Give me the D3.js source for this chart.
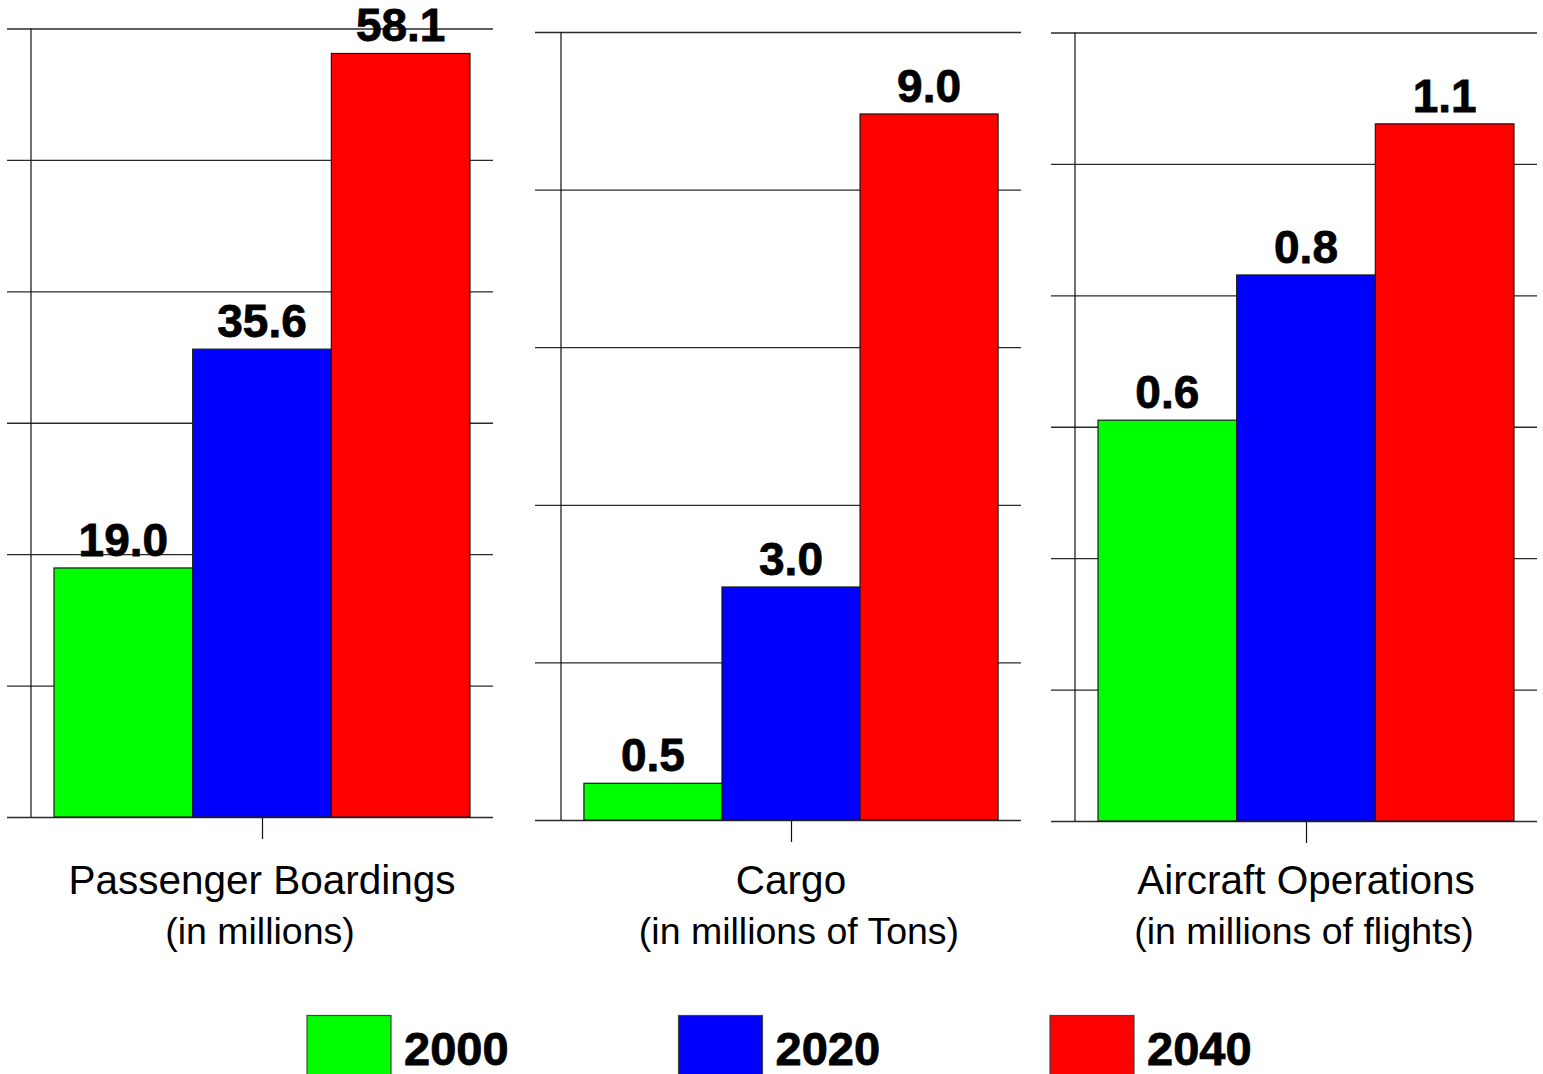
<!DOCTYPE html>
<html>
<head>
<meta charset="utf-8">
<script src="https://cdn.jsdelivr.net/npm/d3@7"></script>
<style>
  html, body { margin: 0; padding: 0; background: #fff; }
  svg { display: block; }
</style>
</head>
<body>
<svg id="chart" width="1543" height="1074"></svg>
<script>
// ---- data ----
const categories = ["Passenger Boardings", "Cargo", "Aircraft Operations"];
const subtitles = ["(in millions)", "(in millions of Tons)", "(in millions of flights)"];
const years = ["2000", "2020", "2040"];
const values2000 = [18.95, 0.466, 0.61];
const values2020 = [35.6, 2.957, 0.831];
const values2040 = [58.1, 8.96, 1.061];
const labels2000 = ["19.0", "0.5", "0.6"];
const labels2020 = ["35.6", "3.0", "0.8"];
const labels2040 = ["58.1", "9.0", "1.1"];
const yMax = [60, 10, 1.2];
const yTicks = [[0, 10, 20, 30, 40, 50, 60], [0, 2, 4, 6, 8, 10], [0, 0.2, 0.4, 0.6, 0.8, 1.0, 1.2]];
const colors = ["#00ff00", "#0000ff", "#ff0000"];

// ---- layout ----
const panels = [
  { left: 7, axis: 31, right: 493, top: 28.5, bottom: 817, subDx: -2 },
  { left: 535, axis: 561, right: 1021, top: 32, bottom: 820, subDx: 8 },
  { left: 1051, axis: 1075, right: 1537, top: 32.5, bottom: 821, subDx: -2 }
];

const svg = d3.select("#chart");
const seriesVals = [values2000, values2020, values2040];
const seriesLabels = [labels2000, labels2020, labels2040];
const FONT = "'Liberation Sans', Arial, sans-serif";

panels.forEach((p, i) => {
  const g = svg.append("g");
  const y = d3.scaleLinear().domain([0, yMax[i]]).range([p.bottom, p.top]);
  const x = d3.scaleBand().domain(years).range([p.axis, p.right]).paddingInner(0).paddingOuter(0.166);

  // gridlines (as an axis drawn from right edge leftwards)
  const grid = g.append("g")
    .attr("transform", `translate(${p.right},0)`)
    .call(d3.axisLeft(y).tickValues(yTicks[i]).tickSize(p.right - p.left).tickFormat(""));
  grid.select(".domain").remove();
  grid.selectAll(".tick line").attr("stroke", "#2a2a2a").attr("stroke-width", 1.3);

  // vertical axis line
  g.append("line")
    .attr("x1", p.axis).attr("x2", p.axis)
    .attr("y1", y(yMax[i])).attr("y2", y(0))
    .attr("stroke", "#111").attr("stroke-width", 1.2);

  // bottom center tick
  const xc = d3.scalePoint().domain([categories[i]]).range([p.axis, p.right]).padding(0.5);
  const bx = g.append("g")
    .attr("transform", `translate(0,${p.bottom})`)
    .call(d3.axisBottom(xc).tickSize(22).tickFormat(""));
  bx.select(".domain").remove();
  bx.selectAll(".tick line").attr("stroke", "#111").attr("stroke-width", 1.2);

  // bars
  const data = years.map((yr, k) => ({ yr, v: seriesVals[k][i], lab: seriesLabels[k][i], c: colors[k] }));
  g.selectAll("rect.bar").data(data).enter().append("rect")
    .attr("class", "bar")
    .attr("x", d => x(d.yr))
    .attr("width", x.bandwidth())
    .attr("y", d => y(d.v))
    .attr("height", d => y(0) - y(d.v))
    .attr("fill", d => d.c)
    .attr("stroke", "#1a1a1a")
    .attr("stroke-width", 1.2);

  // value labels
  g.selectAll("text.val").data(data).enter().append("text")
    .attr("class", "val")
    .attr("x", d => x(d.yr) + x.bandwidth() / 2)
    .attr("y", d => y(d.v) - 12)
    .attr("text-anchor", "middle")
    .attr("font-family", FONT)
    .attr("font-weight", "bold")
    .attr("font-size", 46)
    .attr("fill", "#000")
    .attr("stroke", "#000")
    .attr("stroke-width", 0.8)
    .text(d => d.lab);

  // category labels
  const cx = xc(categories[i]);
  g.append("text")
    .attr("x", cx).attr("y", 894)
    .attr("text-anchor", "middle")
    .attr("font-family", FONT)
    .attr("font-size", 40.5)
    .attr("fill", "#000")
    .text(categories[i]);
  g.append("text")
    .attr("x", cx + p.subDx).attr("y", 944)
    .attr("text-anchor", "middle")
    .attr("font-family", FONT)
    .attr("font-size", 37.5)
    .attr("fill", "#000")
    .text(subtitles[i]);
});

// legend
const legendX = d3.scalePoint().domain(years).range([307, 1050]);
const lg = svg.append("g");
const items = lg.selectAll("g.item").data(years).enter().append("g")
  .attr("class", "item")
  .attr("transform", d => `translate(${legendX(d)},1015.5)`);
items.append("rect")
  .attr("width", 84).attr("height", 80)
  .attr("fill", (d, k) => colors[k])
  .attr("stroke", "#444").attr("stroke-width", 1.2);
items.append("text")
  .attr("x", 97).attr("y", 49)
  .attr("font-family", FONT)
  .attr("font-weight", "bold")
  .attr("font-size", 47)
  .attr("fill", "#000")
  .attr("stroke", "#000")
  .attr("stroke-width", 0.8)
  .text(d => d);
</script>
</body>
</html>
